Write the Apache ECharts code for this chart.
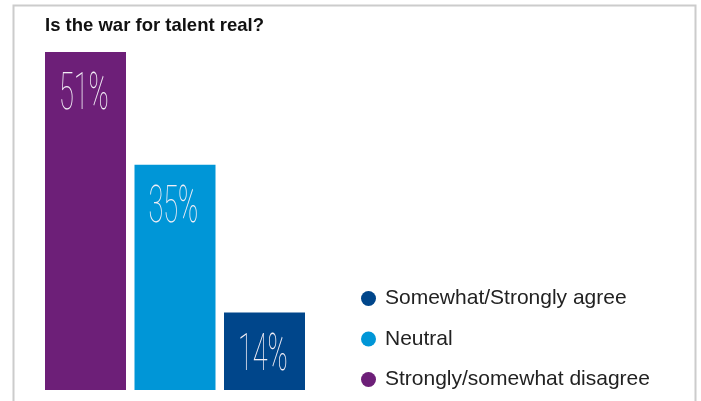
<!DOCTYPE html>
<html>
<head>
<meta charset="utf-8">
<script src="https://cdn.jsdelivr.net/npm/echarts@6/dist/echarts.min.js"></script>
<style>
  html, body { margin: 0; padding: 0; background: #fff; }
  #chart { width: 701px; height: 401px; }
</style>
</head>
<body>
<div id="chart"></div>
<script>
// Survey answers, in the order the bars are drawn (left to right)
const categories = ['Strongly/somewhat disagree', 'Neutral', 'Somewhat/Strongly agree'];
const values = [51, 35, 14];
const colors = ['#6d1f78', '#0096d7', '#00468b'];
// Legend lists the answers from agree to disagree
const legendOrder = ['Somewhat/Strongly agree', 'Neutral', 'Strongly/somewhat disagree'];
const title = 'Is the war for talent real?';

const BAR_W = 81;

const chart = echarts.init(document.getElementById('chart'), null, { renderer: 'canvas' });

// one bar series per answer so each gets its own legend entry
const barSeries = categories.map((name, i) => ({
  name: name,
  type: 'bar',
  barWidth: BAR_W,
  barGap: '-100%',
  itemStyle: { color: colors[i] },
  data: categories.map((c, j) => (j === i ? values[i] : '-')),
  silent: true
}));

// condensed thin percentage labels inside the top-left of each bar
const labelSeries = {
  type: 'custom',
  silent: true,
  data: values.map((v, i) => [i, v]),
  renderItem: function (params, api) {
    const v = api.value(1);
    const pt = api.coord([api.value(0), v]);
    const left = pt[0] - BAR_W / 2;
    return {
      type: 'text',
      x: left + 14,
      y: pt[1] + 19,
      scaleX: 0.53,
      style: {
        text: v + '%',
        fill: '#f2eef6',
        font: '100 51px Roboto, "Liberation Sans Narrow", sans-serif',
        textVerticalAlign: 'top'
      }
    };
  },
  z: 5
};

chart.setOption({
  animation: false,
  backgroundColor: '#ffffff',
  title: {
    text: title,
    left: 45,
    top: 16,
    padding: 0,
    textStyle: {
      fontFamily: '"Liberation Sans", Arial, sans-serif',
      fontWeight: 'bold',
      fontSize: 18.5,
      color: '#111'
    }
  },
  legend: {
    data: legendOrder,
    orient: 'vertical',
    left: 356,
    top: 283,
    icon: 'circle',
    itemWidth: 15,
    itemHeight: 15,
    itemGap: 19.5,
    selectedMode: false,
    textStyle: {
      fontFamily: '"Liberation Sans", Arial, sans-serif',
      fontSize: 21,
      color: '#222',
      padding: [0, 0, 0, 4]
    }
  },
  grid: { left: 40.75, width: 268.5, top: 52, bottom: 11, containLabel: false },
  xAxis: {
    type: 'category',
    data: categories,
    show: false
  },
  yAxis: {
    type: 'value',
    min: 3,
    max: 51,
    show: false
  },
  graphic: [{
    type: 'rect',
    silent: true,
    shape: { x: 13.5, y: 5.5, width: 682, height: 420 },
    style: { fill: 'none', stroke: '#cccccc', lineWidth: 2 },
    z: -1
  }],
  series: barSeries.concat([labelSeries])
});
</script>
</body>
</html>
